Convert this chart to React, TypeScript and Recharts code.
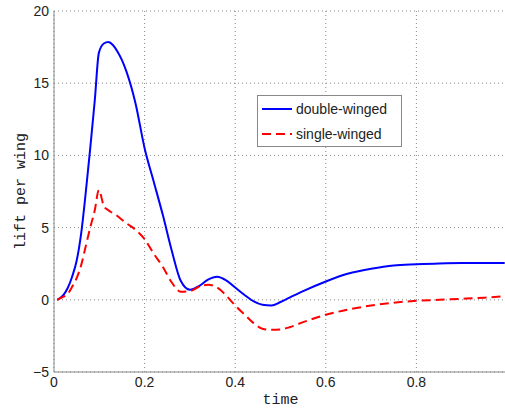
import React from 'react';
import { LineChart, Line, XAxis, YAxis, CartesianGrid } from 'recharts';

const time = [0.007, 0.02, 0.03, 0.04, 0.05, 0.06, 0.07, 0.08, 0.09, 0.099, 0.11, 0.12, 0.13, 0.14, 0.15, 0.16, 0.18, 0.2, 0.22, 0.24, 0.26, 0.28, 0.3, 0.32, 0.34, 0.36, 0.38, 0.4, 0.42, 0.44, 0.46, 0.48, 0.5, 0.52, 0.55, 0.6, 0.65, 0.7, 0.75, 0.8, 0.85, 0.9, 0.95, 0.995];
const doubleWinged = [0, 0.3, 0.8, 1.6, 2.7, 4.6, 7.4, 10.5, 13.8, 17.1, 17.75, 17.85, 17.65, 17.2, 16.6, 15.8, 13.6, 10.5, 8.2, 5.9, 3.4, 1.3, 0.7, 0.95, 1.4, 1.6, 1.35, 0.85, 0.35, -0.1, -0.35, -0.4, -0.15, 0.15, 0.6, 1.27, 1.82, 2.15, 2.38, 2.46, 2.52, 2.55, 2.55, 2.54];
const singleWinged = [0, 0.2, 0.4, 0.9, 1.5, 2.4, 3.7, 5.0, 6.2, 7.6, 6.5, 6.2, 6.0, 5.8, 5.55, 5.3, 4.85, 4.2, 3.2, 2.3, 1.2, 0.55, 0.6, 0.9, 1.05, 0.85, 0.3, -0.4, -1.0, -1.6, -2.0, -2.08, -2.05, -1.9, -1.55, -1.04, -0.67, -0.4, -0.2, -0.07, 0.0, 0.07, 0.15, 0.25];
const xTicks = [0, 0.2, 0.4, 0.6, 0.8];
const yTicks = [-5, 0, 5, 10, 15, 20];

const data = time.map((t, i) => ({ t, double: doubleWinged[i], single: singleWinged[i] }));

const tickStyle = { fontFamily: '"Liberation Sans", Arial, sans-serif', fontSize: 14, fill: '#222' };
const monoLabel = { fontFamily: '"Liberation Mono", "DejaVu Sans Mono", monospace', fontSize: 15, fill: '#222' };

function LegendBox() {
  return (
    <div style={{ position: 'absolute', left: 257, top: 95, width: 145, height: 52, border: '1px solid #888', background: '#fff', boxSizing: 'border-box' }}>
      <svg width={143} height={50} style={{ display: 'block' }}>
        <line x1={4} x2={34} y1={13} y2={13} stroke="#0000ff" strokeWidth={2} />
        <text x={38} y={18} style={tickStyle}>double-winged</text>
        <line x1={4} x2={34} y1={38} y2={38} stroke="#ff0000" strokeWidth={2} strokeDasharray="9 5" />
        <text x={38} y={43} style={tickStyle}>single-winged</text>
      </svg>
    </div>
  );
}

export default function App() {
  return (
    <div style={{ position: 'fixed', left: 0, top: 0, width: 505, height: 409, overflow: 'hidden', background: '#fff' }}>
      <LineChart width={510} height={409} data={data} margin={{ top: 11, right: 3, left: 0, bottom: 0 }}>
        <CartesianGrid stroke="#888" strokeDasharray="1 3" />
        <XAxis
          dataKey="t"
          type="number"
          domain={[0, 1]}
          ticks={xTicks}
          height={37}
          stroke="#888"
          tickLine={false}
          tickSize={0}
          tickMargin={5}
          tick={tickStyle}
          label={{ value: 'time', position: 'insideBottom', offset: 5, style: monoLabel }}
        />
        <XAxis xAxisId="top" orientation="top" dataKey="t" type="number" domain={[0, 1]} height={0} tick={false} tickLine={false} stroke="#aaa" />
        <YAxis
          type="number"
          domain={[-5, 20]}
          ticks={yTicks}
          width={54}
          stroke="#888"
          tickLine={false}
          tickSize={0}
          tickMargin={5}
          tick={tickStyle}
          tickFormatter={(v: number) => (v < 0 ? '\u2212' + Math.abs(v) : String(v))}
          label={{ value: 'lift per wing', angle: -90, position: 'center', dx: -7, style: { ...monoLabel, textAnchor: 'middle' } }}
        />
        <Line type="monotone" dataKey="double" stroke="#0000ff" strokeWidth={2} dot={false} isAnimationActive={false} />
        <Line type="monotone" dataKey="single" stroke="#ff0000" strokeWidth={2} strokeDasharray="9 5" dot={false} isAnimationActive={false} />
      </LineChart>
      <LegendBox />
    </div>
  );
}
